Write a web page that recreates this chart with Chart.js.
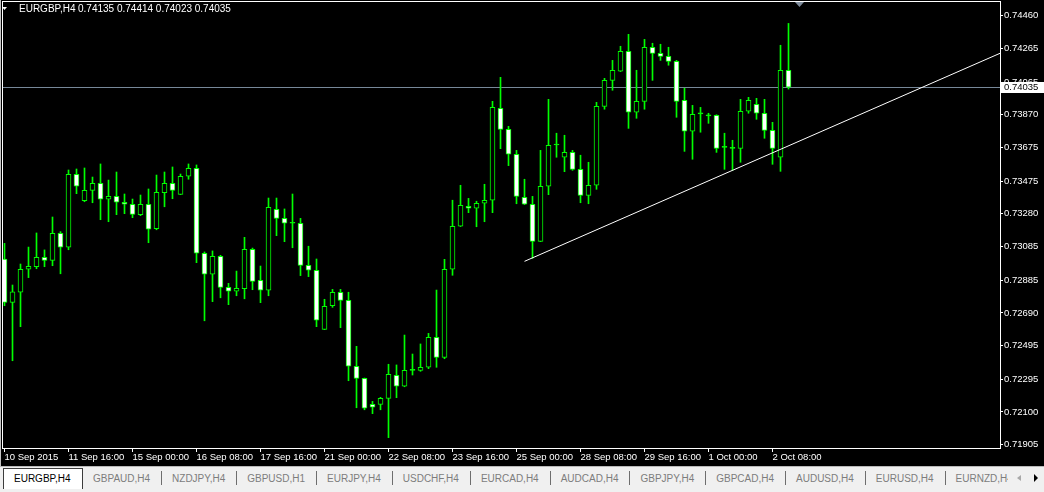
<!DOCTYPE html>
<html>
<head>
<meta charset="utf-8">
<script src="https://cdn.jsdelivr.net/npm/chart.js@4.4.0/dist/chart.umd.min.js"></script>
<style>
html, body { margin: 0; padding: 0; background: #000; width: 1044px; height: 492px; overflow: hidden; font-family: "Liberation Sans", Arial, sans-serif; }
#wrap { position: absolute; left: 0; top: 0; width: 1044px; height: 466px; background: #000; }
#tabs { position: absolute; left: 0; top: 466px; width: 1044px; height: 26px; background: #f0f0f0; border-top: 1px solid #b9b9b9; box-sizing: border-box; }
#active { position: absolute; left: 3px; top: 1px; width: 80px; height: 21px; background: #fff; border: 1px solid #3c3c3c; border-bottom: none; box-sizing: border-box; font-size: 10px; line-height: 20px; padding-left: 10px; color: #000; }
#strip { position: absolute; left: 83px; top: 0; width: 925px; height: 22px; overflow: hidden; display: flex; align-items: center; white-space: nowrap; }
.tab { padding: 0 11px 0 10px; color: #7d7d7d; font-size: 10px; flex: none; }
.sep { width: 1px; height: 14px; background: #6e6e6e; flex: none; }
#arrows { position: absolute; left: 1008px; top: 0; width: 36px; height: 22px; background: #f0f0f0; }
.la { position: absolute; left: 9px; top: 8px; width: 0; height: 0; border-top: 3px solid transparent; border-bottom: 3px solid transparent; border-right: 4px solid #a8a8a8; }
.ra { position: absolute; left: 26px; top: 7px; width: 0; height: 0; border-top: 4px solid transparent; border-bottom: 4px solid transparent; border-left: 4px solid #000; }
</style>
</head>
<body>
<div id="wrap"><canvas id="c" width="1044" height="466"></canvas></div>
<div id="tabs">
  <div id="active">EURGBP,H4</div>
  <div id="strip"></div>
  <div id="arrows"><span class="la"></span><span class="ra"></span></div>
</div>
<script>
var symbol = 'EURGBP,H4';

// EURGBP H4 candles, 10 Sep 2015 -> 2 Oct 2015
var opens = [
  0.73011, 0.72753, 0.72813, 0.72950, 0.72965, 0.73021, 0.73003, 0.73164, 0.73081, 0.73515,
  0.73358, 0.73420, 0.73462, 0.73367, 0.73384, 0.73349, 0.73337, 0.73275, 0.73337, 0.73191,
  0.73406, 0.73462, 0.73396, 0.73504, 0.73551, 0.73045, 0.72920, 0.73027, 0.72842, 0.72819,
  0.72834, 0.73069, 0.72884, 0.72825, 0.73307, 0.73253, 0.73224, 0.73224, 0.72973, 0.72944,
  0.72592, 0.72733, 0.72813, 0.72765, 0.72372, 0.72300, 0.72145, 0.72145, 0.72181, 0.72318,
  0.72253, 0.72348, 0.72348, 0.72366, 0.72545, 0.72425, 0.72950, 0.73206, 0.73325, 0.73313,
  0.73343, 0.73361, 0.73909, 0.73783, 0.73635, 0.73378, 0.73337, 0.73116, 0.73444, 0.73690,
  0.73617, 0.73646, 0.73545, 0.73390, 0.73450, 0.73920, 0.74075, 0.74129, 0.74248, 0.73885,
  0.73950, 0.74272, 0.74236, 0.74218, 0.74188, 0.73956, 0.73772, 0.73875, 0.73863, 0.73867,
  0.73676, 0.73670, 0.73670, 0.73891, 0.73932, 0.73879, 0.73777, 0.73617, 0.74135
];
var highs = [
  0.73104, 0.72856, 0.72981, 0.73082, 0.73166, 0.73065, 0.73261, 0.73174, 0.73541, 0.73547,
  0.73553, 0.73499, 0.73577, 0.73481, 0.73529, 0.73398, 0.73368, 0.73392, 0.73428, 0.73511,
  0.73529, 0.73559, 0.73517, 0.73577, 0.73571, 0.73053, 0.73059, 0.73033, 0.72866, 0.72939,
  0.73140, 0.73076, 0.72969, 0.73374, 0.73374, 0.73309, 0.73398, 0.73253, 0.73087, 0.73011,
  0.72771, 0.72830, 0.72830, 0.72813, 0.72491, 0.72302, 0.72163, 0.72187, 0.72384, 0.72380,
  0.72558, 0.72445, 0.72505, 0.72568, 0.72826, 0.73009, 0.73361, 0.73450, 0.73372, 0.73355,
  0.73456, 0.73950, 0.74093, 0.73801, 0.73658, 0.73486, 0.73384, 0.73658, 0.73962, 0.73760,
  0.73748, 0.73658, 0.73629, 0.73587, 0.73944, 0.74087, 0.74194, 0.74278, 0.74349, 0.74135,
  0.74319, 0.74296, 0.74290, 0.74272, 0.74194, 0.74028, 0.73926, 0.73914, 0.73879, 0.73870,
  0.73760, 0.73718, 0.73962, 0.73974, 0.73968, 0.73962, 0.73825, 0.74284, 0.74414
];
var lows = [
  0.72733, 0.72405, 0.72608, 0.72900, 0.72953, 0.72965, 0.72971, 0.72923, 0.73066, 0.73400,
  0.73352, 0.73346, 0.73245, 0.73233, 0.73275, 0.73281, 0.73257, 0.73269, 0.73108, 0.73185,
  0.73322, 0.73370, 0.73394, 0.73486, 0.72989, 0.72643, 0.72757, 0.72780, 0.72739, 0.72792,
  0.72774, 0.72828, 0.72751, 0.72792, 0.73150, 0.73114, 0.73078, 0.72912, 0.72906, 0.72608,
  0.72590, 0.72723, 0.72602, 0.72286, 0.72125, 0.72113, 0.72090, 0.72113, 0.71947, 0.72185,
  0.72250, 0.72320, 0.72342, 0.72358, 0.72366, 0.72417, 0.72914, 0.73204, 0.73287, 0.73203,
  0.73233, 0.73287, 0.73668, 0.73567, 0.73340, 0.73335, 0.73015, 0.73114, 0.73394, 0.73617,
  0.73531, 0.73539, 0.73346, 0.73340, 0.73426, 0.73903, 0.74016, 0.74127, 0.73789, 0.73849,
  0.73903, 0.74075, 0.74194, 0.74165, 0.73855, 0.73652, 0.73605, 0.73766, 0.73819, 0.73646,
  0.73545, 0.73539, 0.73587, 0.73879, 0.73843, 0.73730, 0.73575, 0.73533, 0.74023
];
var closes = [
  0.72753, 0.72816, 0.72950, 0.72967, 0.73021, 0.73003, 0.73164, 0.73081, 0.73515, 0.73444,
  0.73420, 0.73462, 0.73367, 0.73384, 0.73349, 0.73337, 0.73277, 0.73337, 0.73188, 0.73408,
  0.73462, 0.73420, 0.73504, 0.73551, 0.73045, 0.72920, 0.73027, 0.72842, 0.72819, 0.72836,
  0.73069, 0.72878, 0.72825, 0.73319, 0.73253, 0.73224, 0.73224, 0.72973, 0.72944, 0.72646,
  0.72729, 0.72813, 0.72765, 0.72372, 0.72300, 0.72122, 0.72128, 0.72181, 0.72324, 0.72253,
  0.72348, 0.72348, 0.72366, 0.72545, 0.72425, 0.72950, 0.73206, 0.73331, 0.73313, 0.73343,
  0.73361, 0.73914, 0.73783, 0.73635, 0.73384, 0.73337, 0.73116, 0.73444, 0.73688, 0.73690,
  0.73646, 0.73545, 0.73390, 0.73450, 0.73920, 0.74075, 0.74135, 0.74248, 0.73885, 0.73950,
  0.74272, 0.74236, 0.74218, 0.74188, 0.73950, 0.73772, 0.73873, 0.73875, 0.73863, 0.73670,
  0.73676, 0.73670, 0.73891, 0.73956, 0.73879, 0.73777, 0.73670, 0.74135, 0.74035
];

// time axis labels, every 8 bars
var dateIdx = [0, 8, 16, 24, 32, 40, 48, 56, 64, 72, 80, 88, 96];
var dateLabels = ['10 Sep 2015', '11 Sep 16:00', '15 Sep 00:00', '16 Sep 08:00', '17 Sep 16:00',
  '21 Sep 00:00', '22 Sep 08:00', '23 Sep 16:00', '25 Sep 00:00', '28 Sep 08:00',
  '29 Sep 16:00', '1 Oct 00:00', '2 Oct 08:00'];

// price axis labels
var priceTicks = [0.74460, 0.74265, 0.74065, 0.73870, 0.73675, 0.73475, 0.73280,
  0.73085, 0.72885, 0.72690, 0.72495, 0.72295, 0.72100, 0.71905];

// trend line (ray to the right edge)
var trendX = [65, 124.4375];
var trendY = [0.72997, 0.74236];

var tabNames = ['GBPAUD,H4', 'NZDJPY,H4', 'GBPUSD,H1', 'EURJPY,H4', 'USDCHF,H4', 'EURCAD,H4',
  'AUDCAD,H4', 'GBPJPY,H4', 'GBPCAD,H4', 'AUDUSD,H4', 'EURUSD,H4', 'EURNZD,H4'];

var strip = document.getElementById('strip');
tabNames.forEach(function(name, i) {
  if (i > 0) {
    var s = document.createElement('div');
    s.className = 'sep';
    strip.appendChild(s);
  }
  var t = document.createElement('div');
  t.className = 'tab';
  t.textContent = name;
  strip.appendChild(t);
});

var FONT = '"Liberation Sans", Arial, sans-serif';
var last = opens.length - 1;

var mtPlugin = {
  id: 'mt4',
  beforeDraw: function(chart) {
    var c = chart.ctx;
    c.save();
    c.fillStyle = '#000';
    c.fillRect(0, 0, chart.width, chart.height);
    c.fillStyle = '#c4c4c4';
    c.fillRect(0, 0, 1, chart.height);
    c.restore();
  },
  beforeDatasetsDraw: function(chart) {
    // bid line
    var c = chart.ctx, a = chart.chartArea;
    var y = Math.round(chart.scales.y.getPixelForValue(closes[last])) + 0.5;
    c.save();
    c.strokeStyle = 'rgb(119,136,153)';
    c.lineWidth = 1;
    c.beginPath();
    c.moveTo(a.left, y);
    c.lineTo(a.right, y);
    c.stroke();
    c.restore();
  },
  afterDraw: function(chart) {
    var c = chart.ctx, a = chart.chartArea;
    c.save();
    // frame
    c.strokeStyle = '#fff';
    c.lineWidth = 1;
    c.strokeRect(a.left - 0.5, a.top - 0.5, a.right - a.left + 1, a.bottom - a.top + 1);

    // current price label
    var py = chart.scales.y.getPixelForValue(closes[last]);
    c.fillStyle = '#fff';
    c.fillRect(a.right + 1, Math.round(py) - 5, 43, 11);
    c.fillStyle = '#000';
    c.font = '9.5px ' + FONT;
    c.textBaseline = 'middle';
    c.fillText(closes[last].toFixed(5), a.right + 4, Math.round(py) + 0.5);

    // title
    c.fillStyle = '#fff';
    c.beginPath();
    c.moveTo(2, 7);
    c.lineTo(7, 7);
    c.lineTo(4.5, 10);
    c.closePath();
    c.fill();
    c.font = '10px ' + FONT;
    c.textBaseline = 'alphabetic';
    c.fillText(symbol, 19, 12);
    var ohlc = [opens[last], highs[last], lows[last], closes[last]].map(function(v) { return v.toFixed(5); }).join(' ');
    c.fillText(ohlc, 78, 12);

    // chart shift marker
    c.fillStyle = '#7f8c9c';
    c.beginPath();
    c.moveTo(795, 2);
    c.lineTo(804, 2);
    c.lineTo(799.5, 7);
    c.closePath();
    c.fill();
    c.restore();
  }
};

var idx = opens.map(function(_, i) { return i; });

new Chart(document.getElementById('c'), {
  type: 'bar',
  data: {
    datasets: [
      {
        type: 'line',
        label: 'trend',
        data: trendX.map(function(x, i) { return { x: x, y: trendY[i] }; }),
        borderColor: '#ffffff',
        borderWidth: 1,
        pointRadius: 0,
        clip: 0,
        order: 0
      },
      {
        label: 'body',
        data: idx.map(function(i) { return { x: i, y: [opens[i], closes[i]] }; }),
        barThickness: 5,
        grouped: false,
        borderWidth: 1,
        borderColor: '#00ff00',
        borderSkipped: false,
        minBarLength: 1,
        clip: 0,
        backgroundColor: function(ctx) {
          var i = ctx.dataIndex;
          if (opens[i] === closes[i]) return '#00ff00';
          return closes[i] > opens[i] ? '#000000' : '#ffffff';
        },
        order: 1
      },
      {
        label: 'wick',
        data: idx.map(function(i) { return { x: i, y: [lows[i], highs[i]] }; }),
        barThickness: 1,
        grouped: false,
        backgroundColor: '#00ff00',
        borderWidth: 0,
        clip: 0,
        order: 2
      }
    ]
  },
  options: {
    responsive: false,
    animation: false,
    devicePixelRatio: 1,
    layout: { padding: { left: 3, top: 2, right: 0, bottom: 0 } },
    plugins: { legend: { display: false }, tooltip: { enabled: false } },
    scales: {
      x: {
        type: 'linear',
        min: -0.1875,
        max: 124.4375,
        offset: false,
        grid: { offset: false, drawOnChartArea: false, drawTicks: true, tickLength: 4, color: '#ffffff' },
        border: { display: false },
        afterBuildTicks: function(s) { s.ticks = dateIdx.map(function(v) { return { value: v }; }); },
        afterFit: function(s) { s.height = 18; s.paddingLeft = 0; s.paddingRight = 0; },
        ticks: {
          color: '#ffffff',
          font: { family: FONT, size: 9.5 },
          autoSkip: false,
          maxRotation: 0,
          align: 'start',
          padding: 0,
          callback: function(v, i) { return dateLabels[i]; }
        }
      },
      y: {
        position: 'right',
        min: 0.718853,
        max: 0.745416,
        grid: { drawOnChartArea: false, drawTicks: true, tickLength: 3, color: '#ffffff' },
        border: { display: false },
        afterBuildTicks: function(s) { s.ticks = priceTicks.map(function(v) { return { value: v }; }); },
        afterFit: function(s) { s.width = 44; s.paddingTop = 0; s.paddingBottom = 0; },
        ticks: {
          color: '#ffffff',
          font: { family: FONT, size: 9.5 },
          autoSkip: false,
          padding: 1,
          callback: function(v) { return Number(v).toFixed(5); }
        }
      }
    }
  },
  plugins: [mtPlugin]
});
</script>
</body>
</html>
